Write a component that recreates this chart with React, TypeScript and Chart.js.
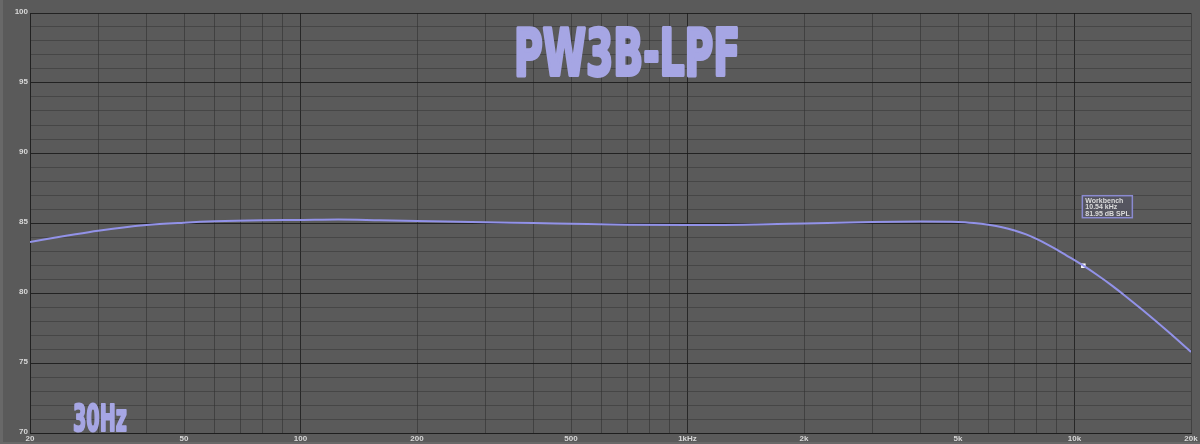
import React, { useEffect, useRef } from "react";
import { Chart, registerables } from "chart.js";

Chart.register(...registerables);

// ---- data ----
const freqs = [20, 25, 30, 40, 50, 60, 80, 100, 125, 160, 200, 300, 400, 500, 700, 1000, 1500, 2000, 3000, 4000, 5000, 5500, 6000, 6500, 7000, 7500, 8000, 8500, 9000, 9500, 10540, 11500, 12500, 13500, 15000, 17500, 20000];
const spl = [83.65, 84.1, 84.45, 84.85, 85.02, 85.12, 85.2, 85.22, 85.25, 85.2, 85.15, 85.05, 85.0, 84.95, 84.88, 84.85, 84.9, 84.97, 85.07, 85.1, 85.08, 85.0, 84.87, 84.7, 84.47, 84.19, 83.85, 83.48, 83.1, 82.71, 81.95, 81.25, 80.53, 79.81, 78.78, 77.21, 75.79];

const xLabelValues = [20, 50, 100, 200, 500, 1000, 2000, 5000, 10000, 20000];
const xLabelTexts = ["20", "50", "100", "200", "500", "1kHz", "2k", "5k", "10k", "20k"];
const yTickLabels = [70, 75, 80, 85, 90, 95, 100];

const markerName = "Workbench";
const markerFreq = 10540;
const markerSpl = 81.95;

const titleText = "PW3B-LPF";
const noteText = "30Hz";

const BG = "rgb(90,90,90)";
const LINE = "#9292e8";
const LAV = "#a6a6e4";

function gridTicks(): number[] {
  const out: number[] = [];
  for (const d of [10, 100, 1000, 10000]) {
    for (let m = 1; m <= 9; m++) {
      const v = d * m;
      if (v >= 20 && v <= 20000) out.push(v);
    }
  }
  return out;
}

const overlayPlugin = {
  id: "overlay",
  beforeDraw(chart: any) {
    const { ctx, width, height } = chart;
    ctx.save();
    ctx.fillStyle = BG;
    ctx.fillRect(0, 0, width, height);
    ctx.fillStyle = "rgb(104,104,104)";
    ctx.fillRect(0, 0, 3, height);
    ctx.fillRect(0, height - 2, width, 2);
    ctx.restore();
  },
  beforeDatasetsDraw(chart: any) {
    const { ctx } = chart;
    const drawScaled = (text: string, cx: number, baseline: number, size: number, targetW: number) => {
      ctx.save();
      ctx.font = `bold ${size}px "DejaVu Sans"`;
      const w = ctx.measureText(text).width;
      ctx.translate(cx, baseline);
      ctx.scale(targetW / w, 1);
      ctx.textAlign = "center";
      ctx.textBaseline = "alphabetic";
      ctx.fillStyle = LAV;
      ctx.strokeStyle = LAV;
      ctx.lineJoin = "round";
      ctx.lineWidth = size * 0.06;
      ctx.fillText(text, 0, 0);
      ctx.strokeText(text, 0, 0);
      ctx.restore();
    };
    drawScaled(titleText, 627, 75, 64, 226);
    drawScaled(noteText, 100, 431, 37, 54);
  },
  afterDatasetsDraw(chart: any) {
    const { ctx } = chart;
    const xs = chart.scales.x;
    const ys = chart.scales.y;
    const px = xs.getPixelForValue(markerFreq);
    const py = ys.getPixelForValue(markerSpl);
    const bx = px - 1;
    const by = py - 70;
    const bw = 50;
    const bh = 22;
    ctx.save();
    ctx.fillStyle = "rgba(84,84,96,0.9)";
    ctx.fillRect(bx, by, bw, bh);
    ctx.strokeStyle = "#8a8ad0";
    ctx.lineWidth = 1.5;
    ctx.strokeRect(bx, by, bw, bh);
    ctx.fillStyle = "#dcdcdc";
    ctx.font = 'bold 7px "Liberation Sans"';
    ctx.textAlign = "left";
    ctx.textBaseline = "top";
    ctx.fillText(markerName, bx + 3, by + 1.5);
    ctx.fillText(`${(markerFreq / 1000).toFixed(2)} kHz`, bx + 3, by + 8);
    ctx.fillText(`${markerSpl.toFixed(2)} dB SPL`, bx + 3, by + 14.5);
    ctx.restore();
  },
};

export default function App() {
  const ref = useRef<HTMLCanvasElement | null>(null);

  useEffect(() => {
    if (!ref.current) return;
    const chart = new Chart(ref.current, {
      type: "line",
      data: {
        datasets: [
          {
            label: "Workbench",
            data: freqs.map((f, i) => ({ x: f, y: spl[i] })),
            borderColor: LINE,
            borderWidth: 2,
            pointRadius: 0,
            cubicInterpolationMode: "monotone",
            fill: false,
          },
          {
            label: "marker",
            data: [{ x: markerFreq, y: markerSpl }],
            showLine: false,
            pointStyle: "rect",
            pointRadius: 3.2,
            pointBackgroundColor: "#ffffff",
            pointBorderColor: "#ffffff",
            pointBorderWidth: 0,
          },
        ],
      },
      options: {
        animation: false,
        responsive: false,
        devicePixelRatio: 1,
        layout: { padding: { top: 13, right: 9, left: 0, bottom: 0 } },
        plugins: { legend: { display: false }, tooltip: { enabled: false }, title: { display: false } },
        scales: {
          x: {
            type: "logarithmic",
            min: 20,
            max: 20000,
            afterBuildTicks: (scale: any) => {
              scale.ticks = gridTicks().map((v) => ({ value: v }));
            },
            afterFit: (scale: any) => {
              scale.height = 11;
            },
            ticks: {
              autoSkip: false,
              maxRotation: 0,
              padding: 1,
              color: "#d8d8d8",
              font: { size: 8, weight: "bold", family: "Liberation Sans" },
              callback: (value: any) => {
                const i = xLabelValues.indexOf(Number(value));
                return i >= 0 ? xLabelTexts[i] : "";
              },
            },
            grid: {
              drawTicks: false,
              color: (c: any) => {
                const v = c.tick?.value;
                return [100, 1000, 10000].includes(v) ? "rgba(30,30,30,0.85)" : "rgba(45,45,45,0.55)";
              },
              lineWidth: 1,
            },
            border: { color: "rgba(30,30,30,0.9)" },
          },
          y: {
            type: "linear",
            min: 70,
            max: 100,
            afterFit: (scale: any) => {
              scale.width = 30;
            },
            ticks: {
              stepSize: 1,
              autoSkip: false,
              padding: 2,
              labelOffset: -1,
              color: "#d8d8d8",
              font: { size: 8, weight: "bold", family: "Liberation Sans" },
              callback: (value: any) => (yTickLabels.includes(Number(value)) ? String(value) : ""),
            },
            grid: {
              drawTicks: false,
              color: (c: any) => {
                const v = c.tick?.value;
                return v % 5 === 0 ? "rgba(25,25,25,0.85)" : "rgba(50,50,50,0.5)";
              },
              lineWidth: 1,
            },
            border: { color: "rgba(30,30,30,0.9)" },
          },
        },
      },
      plugins: [overlayPlugin],
    } as any);
    return () => chart.destroy();
  }, []);

  return (
    <div style={{ position: "fixed", left: 0, top: 0, width: 1200, height: 444, background: BG }}>
      <canvas ref={ref} width={1200} height={444} style={{ width: 1200, height: 444, display: "block" }} />
    </div>
  );
}
